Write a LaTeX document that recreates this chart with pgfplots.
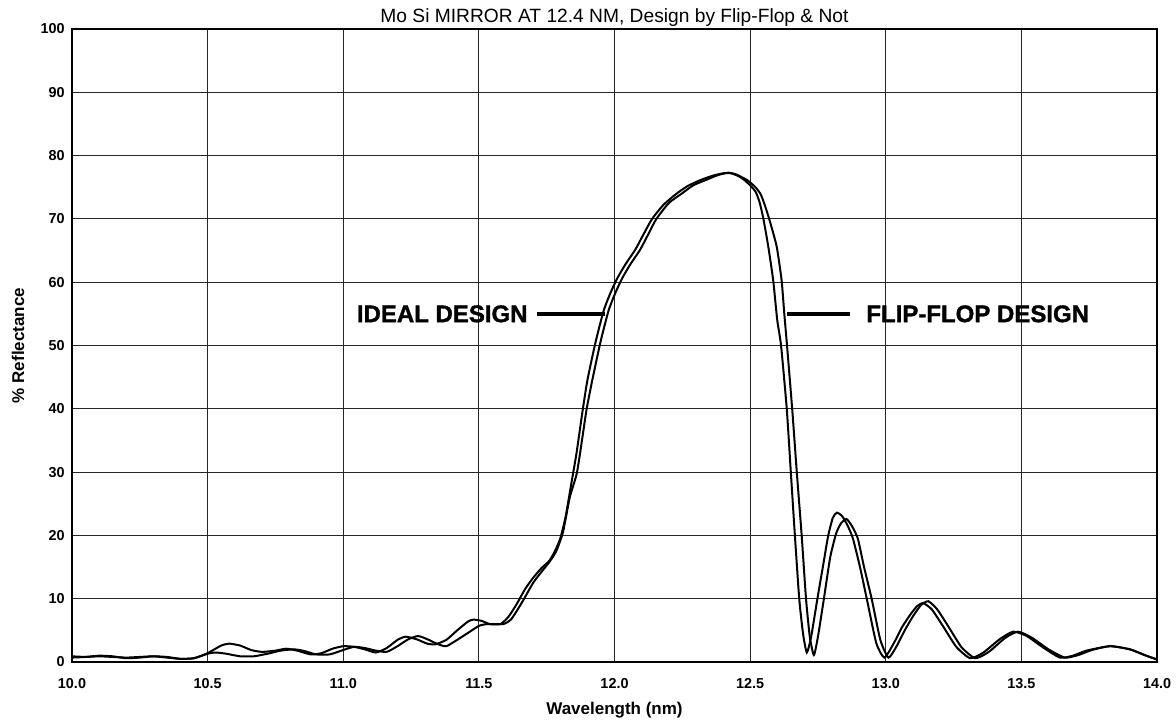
\documentclass[border=0pt]{standalone}
\usepackage{fontspec}
\setmainfont{Liberation Sans}
\newfontface\heavy{Liberation Sans Bold}[FakeBold=1.4]
\usepackage{pgfplots}
\usepackage{pgfplotstable}
\pgfplotsset{compat=1.18}

% Reflectance (%) against wavelength (nm)
\pgfplotstableread{
wl R
10.00 0.9
10.05 0.8
10.10 0.9
10.15 0.8
10.20 0.7
10.25 0.8
10.30 0.9
10.35 0.7
10.40 0.5
10.45 0.6
10.50 1.4
10.55 2.6
10.58 2.9
10.62 2.6
10.66 1.9
10.70 1.6
10.75 1.8
10.79 2.1
10.83 1.8
10.88 1.2
10.92 1.4
10.96 2.1
11.00 2.5
11.04 2.4
11.08 2.0
11.12 1.5
11.16 2.2
11.20 3.5
11.23 4.0
11.27 3.6
11.31 2.9
11.34 2.8
11.38 3.5
11.42 5.0
11.46 6.4
11.48 6.7
11.51 6.5
11.54 6.0
11.58 6.0
11.61 7.2
11.64 9.2
11.67 11.5
11.70 13.3
11.73 14.8
11.76 16.0
11.78 17.5
11.80 19.5
11.82 23.0
11.84 28.0
11.86 33.0
11.88 39.0
11.90 44.5
11.93 50.5
11.96 55.5
11.985 58.3
12.01 60.6
12.04 62.8
12.076 65.1
12.10 67.0
12.137 69.9
12.18 72.2
12.229 74.0
12.27 75.2
12.315 76.1
12.36 76.8
12.40 77.2
12.43 77.2
12.46 76.7
12.48 76.1
12.50 75.3
12.52 74.3
12.535 72.6
12.549 70.0
12.567 65.6
12.585 60.3
12.60 54.0
12.614 50.0
12.635 40.0
12.65 30.0
12.665 20.0
12.681 10.0
12.695 4.5
12.709 1.5
12.725 4.0
12.748 10.0
12.77 15.5
12.788 20.0
12.805 22.8
12.82 23.6
12.84 23.0
12.86 21.5
12.879 19.5
12.905 15.0
12.93 10.0
12.965 3.0
12.995 0.7
13.03 3.0
13.06 5.5
13.089 7.4
13.115 8.8
13.138 9.3
13.17 8.3
13.212 5.6
13.26 2.4
13.311 0.6
13.36 1.5
13.42 3.6
13.47 4.8
13.52 4.1
13.58 2.3
13.642 0.7
13.69 1.0
13.74 1.8
13.827 2.5
13.90 2.0
13.96 1.0
14.00 0.4
}\ideal

\pgfplotstableread{
wl R
10.00 0.7
10.05 0.8
10.10 1.0
10.15 0.9
10.20 0.6
10.25 0.7
10.30 0.9
10.35 0.8
10.40 0.5
10.45 0.6
10.50 1.3
10.53 1.5
10.57 1.3
10.62 0.9
10.67 0.9
10.72 1.3
10.77 1.8
10.82 2.0
10.86 1.7
10.90 1.2
10.95 1.2
11.00 1.9
11.04 2.4
11.08 2.2
11.12 1.8
11.16 1.6
11.20 2.5
11.24 3.6
11.276 4.1
11.31 3.6
11.35 2.8
11.38 2.5
11.42 3.5
11.46 4.6
11.50 5.7
11.53 6.0
11.59 6.0
11.62 6.8
11.66 9.5
11.70 12.5
11.73 14.2
11.76 15.8
11.785 17.5
11.81 20.5
11.835 26.0
11.861 29.8
11.88 35.0
11.897 39.9
11.918 44.5
11.948 50.5
11.978 55.5
12.003 58.3
12.028 60.6
12.058 62.8
12.094 65.1
12.12 67.2
12.153 69.9
12.20 72.5
12.248 74.0
12.29 75.3
12.334 76.1
12.38 76.9
12.42 77.3
12.45 77.0
12.49 76.1
12.52 75.0
12.54 73.8
12.557 71.8
12.573 69.6
12.598 65.6
12.616 60.3
12.626 55.0
12.636 50.0
12.655 40.0
12.672 30.0
12.69 20.0
12.706 10.0
12.72 4.0
12.735 1.1
12.75 4.0
12.772 10.0
12.795 16.5
12.817 20.3
12.835 21.9
12.855 22.6
12.875 21.5
12.897 19.5
12.92 15.0
12.948 10.0
12.98 3.5
13.01 0.7
13.04 2.5
13.07 5.0
13.10 7.2
13.13 9.0
13.157 9.6
13.19 8.3
13.231 5.6
13.28 2.3
13.33 0.6
13.38 1.6
13.44 3.8
13.488 4.8
13.54 3.8
13.60 2.0
13.66 0.7
13.71 1.1
13.76 1.9
13.827 2.5
13.90 2.0
13.96 1.0
14.00 0.4
}\flipflop

\begin{document}
\begin{tikzpicture}
\begin{axis}[
  scale only axis,
  width=542.5pt, height=316.5pt,
  xmin=10, xmax=14, ymin=0, ymax=100,
  xtick={10,10.5,...,14}, ytick={0,10,...,100},
  xticklabel={\pgfmathprintnumber[fixed,fixed zerofill,precision=1]{\tick}},
  /pgf/number format/assume math mode=true,
  grid=major,
  major grid style={black!85, line width=0.5pt},
  major tick length=0pt,
  axis line style={black, line width=0.7pt},
  tick label style={font=\bfseries\fontsize{7.2}{8}\selectfont, inner sep=0pt},
  xticklabel style={anchor=base, yshift=-13pt},
  yticklabel style={anchor=east, xshift=-3.5pt},
  every axis title shift=0pt,
  title={Mo Si MIRROR AT 12.4 NM, Design by Flip-Flop \& Not},
  title style={font=\fontsize{9.6}{11}\selectfont, anchor=base,
    at={(axis description cs:0.5,1)}, yshift=3.5pt, inner sep=0pt},
  xlabel={Wavelength (nm)},
  ylabel={\% Reflectance},
  xlabel style={font=\bfseries\fontsize{8.5}{10}\selectfont, anchor=base,
    at={(axis description cs:0.5,-0.0837)}, inner sep=0pt},
  ylabel style={font=\bfseries\fontsize{8.5}{10}\selectfont, anchor=center,
    at={(axis description cs:-0.0498,0.5)}, rotate=0, inner sep=0pt},
  clip=false,
]
\addplot[black, line width=1pt, smooth, tension=0.35] table[x=wl, y=R] {\ideal};
\addplot[black, line width=1pt, smooth, tension=0.35] table[x=wl, y=R] {\flipflop};

% leader lines and design labels
\draw[black, line width=2pt] (axis cs:11.714,55) -- (axis cs:11.965,55);
\node[anchor=east, inner sep=0pt, font=\heavy\fontsize{12}{14}\selectfont]
  at (axis cs:11.681,55) {IDEAL DESIGN};
\draw[black, line width=2pt] (axis cs:12.636,55) -- (axis cs:12.868,55);
\node[anchor=west, inner sep=0pt, font=\heavy\fontsize{12}{14}\selectfont]
  at (axis cs:12.927,55) {FLIP-FLOP DESIGN};

\coordinate (bl) at (rel axis cs:0,0);
\coordinate (tr) at (rel axis cs:1,1);
\end{axis}
\pgfresetboundingbox
\path ([shift={(-36pt,-31.5pt)}]bl) rectangle ([shift={(9.5pt,14.5pt)}]tr);
\end{tikzpicture}
\end{document}
